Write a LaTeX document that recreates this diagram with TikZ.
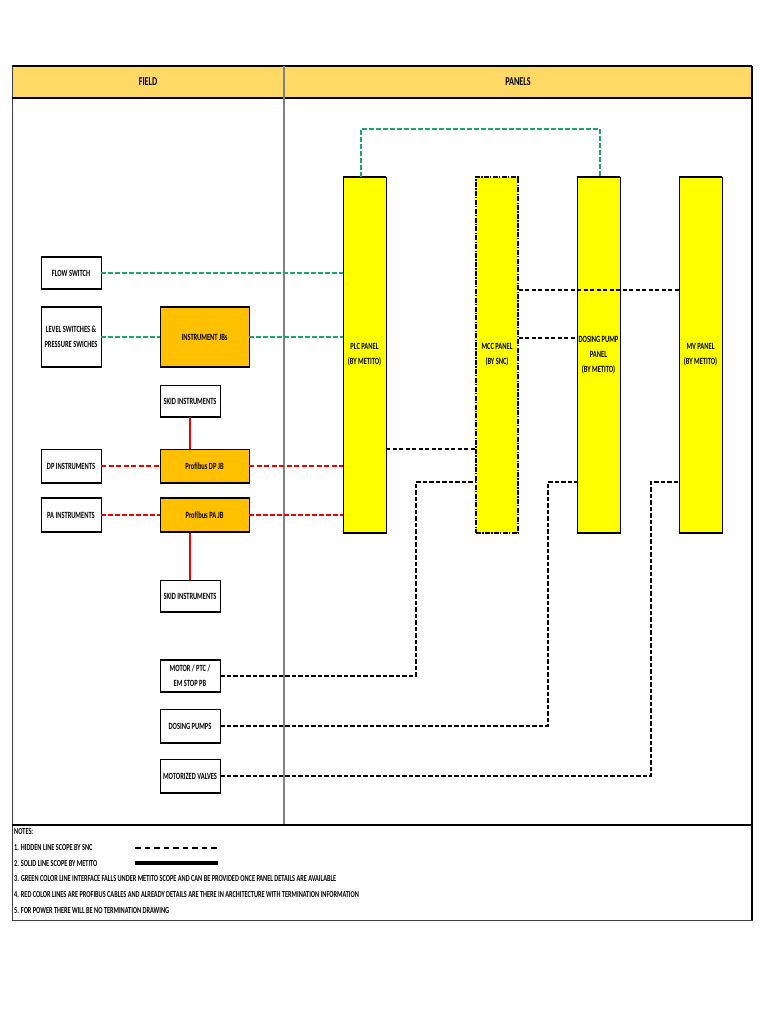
\documentclass[tikz,border=0pt]{standalone}
\usepackage{fontspec}
\setmainfont{Carlito}[FakeStretch=0.68]
\usetikzlibrary{calc}
\definecolor{hdr}{RGB}{255,217,102}
\definecolor{pnl}{RGB}{255,255,0}
\definecolor{jbc}{RGB}{255,192,0}
\definecolor{grn}{RGB}{30,165,105}
\definecolor{redl}{RGB}{240,0,0}
\begin{document}
\begin{tikzpicture}[x=1pt,y=-1pt,
  every node/.style={font=\bfseries\fontsize{9.5}{15}\selectfont, align=center, inner sep=0pt},
  topbot/.style={path picture={\draw[line width=2.6pt] (path picture bounding box.north west) -- (path picture bounding box.north east) (path picture bounding box.south west) -- (path picture bounding box.south east);}},
  cell/.style={draw=black, line width=0.9pt, fill=white, minimum width=60pt, topbot},
  jbox/.style={draw=black, line width=0.9pt, fill=jbc, minimum width=89pt, topbot},
  panel/.style={draw=black, line width=0.9pt, fill=pnl, minimum width=43pt, minimum height=356pt, topbot},
  mccpanel/.style={draw=black, line width=1.3pt, fill=pnl, minimum width=42pt, minimum height=356pt, dash pattern=on 5pt off 1.3pt on 1.3pt off 1.3pt},
  gline/.style={draw=grn, line width=1.5pt, dash pattern=on 4.5pt off 2.5pt},
  rlinethick/.style={draw=redl, line width=2.2pt, dash pattern=on 5pt off 2.5pt},
  rline/.style={draw=redl, line width=1.5pt, dash pattern=on 4.5pt off 2.5pt},
  rsolid/.style={draw=redl, line width=1.6pt},
  kline/.style={draw=black, line width=1.3pt, dash pattern=on 4pt off 2.5pt},
  kthick/.style={draw=black, line width=2pt, dash pattern=on 4.5pt off 2pt},
  notetext/.style={anchor=west, font=\bfseries\fontsize{9.2}{10}\selectfont}
]
\useasboundingbox (0,0) rectangle (768,1024);
\fill[white] (0,0) rectangle (768,1024);
% header and frame
\fill[hdr] (12,66) rectangle (752,98);
\draw[line width=0.9pt, black!75] (12,66) rectangle (752,920);
\draw[line width=1.4pt] (12,66) -- (752,66);
\draw[line width=2.2pt] (12,98) -- (752,98);
\draw[line width=1.5pt] (752,66) -- (752,920);
\draw[line width=1.2pt, black!50] (284,66) -- (284,825);
\draw[line width=2.2pt] (12,825) -- (752,825);
\node[font=\bfseries\fontsize{12}{13}\selectfont] (hfield) at (148,82) {FIELD};
\node[font=\bfseries\fontsize{12}{13}\selectfont] (hpanels) at (518,82) {PANELS};

% panels
\node[panel] (plc) at (364.5,355) {PLC PANEL\\(BY METITO)};
\node[mccpanel] (mcc) at (497,355) {MCC PANEL\\(BY SNC)};
\node[panel] (dos) at (598.5,355) {DOSING PUMP\\PANEL\\(BY METITO)};
\node[panel] (mvp) at (700.5,355) {MV PANEL\\(BY METITO)};

% field boxes
\node[cell, minimum height=33pt] (flow) at (71,273) {FLOW SWITCH};
\node[cell, minimum height=61pt] (level) at (71,337) {LEVEL SWITCHES \&\\PRESSURE SWICHES};
\node[jbox, minimum height=61pt] (ijb) at (204.5,337) {INSTRUMENT JBs};
\node[cell, minimum height=32pt] (skid1) at (190,401) {SKID INSTRUMENTS};
\node[cell, minimum height=34pt] (dpi) at (71,466) {DP INSTRUMENTS};
\node[jbox, minimum height=34pt] (dpjb) at (204.5,466) {Profibus DP JB};
\node[cell, minimum height=35pt] (pai) at (71,515) {PA INSTRUMENTS};
\node[jbox, minimum height=35pt] (pajb) at (204.5,515) {Profibus PA JB};
\node[cell, minimum height=32pt] (skid2) at (190,596) {SKID INSTRUMENTS};
\node[cell, minimum height=33pt] (motor) at (190,676) {MOTOR / PTC /\\EM STOP PB};
\node[cell, minimum height=34pt] (dpump) at (190,726) {DOSING PUMPS};
\node[cell, minimum height=34pt] (mvalve) at (190,776) {MOTORIZED VALVES};

% green lines
\draw[gline] (flow.east) -- (flow.east -| plc.west);
\draw[gline] (level.east) -- (ijb.west);
\draw[gline] (ijb.east) -- (ijb.east -| plc.west);
\coordinate (gA) at (361,129);
\coordinate (gB) at (600,129);
\draw[gline] (plc.north -| gA) -- (gA) -- (gB) -- (dos.north -| gB);

% red lines
\draw[rlinethick] (dpi.east) -- (dpjb.west);
\draw[rlinethick] (dpjb.east) -- (dpjb.east -| plc.west);
\draw[rline] (pai.east) -- (pajb.west);
\draw[rline] (pajb.east) -- (pajb.east -| plc.west);
\draw[rsolid] (skid1.south) -- (skid1.south |- dpjb.north);
\draw[rsolid] (skid2.north |- pajb.south) -- (skid2.north);

% black dashed panel links
\coordinate (k1) at (0,290);
\coordinate (k2) at (0,338);
\coordinate (k3) at (0,449);
\draw[kline] (mcc.east |- k1) -- (mvp.west |- k1);
\draw[kline] (mcc.east |- k2) -- (dos.west |- k2);
\draw[kline] (plc.east |- k3) -- (mcc.west |- k3);

% field to panel power lines
\coordinate (m1) at (416,482);
\coordinate (m2) at (548,482);
\coordinate (m3) at (651,482);
\draw[kthick] (motor.east) -- (motor.east -| m1) -- (m1) -- (mcc.west |- m1);
\draw[kthick] (dpump.east) -- (dpump.east -| m2) -- (m2) -- (dos.west |- m2);
\draw[kthick] (mvalve.east) -- (mvalve.east -| m3) -- (m3) -- (mvp.west |- m3);

% notes
\node[notetext] (n0) at (14,832) {NOTES:};
\node[notetext] (n1) at (14,848) {1. HIDDEN LINE SCOPE BY SNC};
\node[notetext] (n2) at (14,863.5) {2. SOLID LINE SCOPE BY METITO};
\node[notetext] (n3) at (14,879) {3. GREEN COLOR LINE INTERFACE FALLS UNDER METITO SCOPE AND CAN BE PROVIDED ONCE PANEL DETAILS ARE AVAILABLE};
\node[notetext] (n4) at (14,895) {4. RED COLOR LINES ARE PROFIBUS CABLES AND ALREADY DETAILS ARE THERE IN ARCHITECTURE WITH TERMINATION INFORMATION};
\node[notetext] (n5) at (14,911) {5. FOR POWER THERE WILL BE NO TERMINATION DRAWING};
\coordinate (la) at (135,848);
\coordinate (lb) at (217,848);
\coordinate (lc) at (135,863);
\coordinate (ld) at (218,863);
\draw[draw=black, line width=2pt, dash pattern=on 5.5pt off 4pt] (la) -- (lb);
\draw[draw=black, line width=3.5pt] (lc) -- (ld);
\end{tikzpicture}
\end{document}
